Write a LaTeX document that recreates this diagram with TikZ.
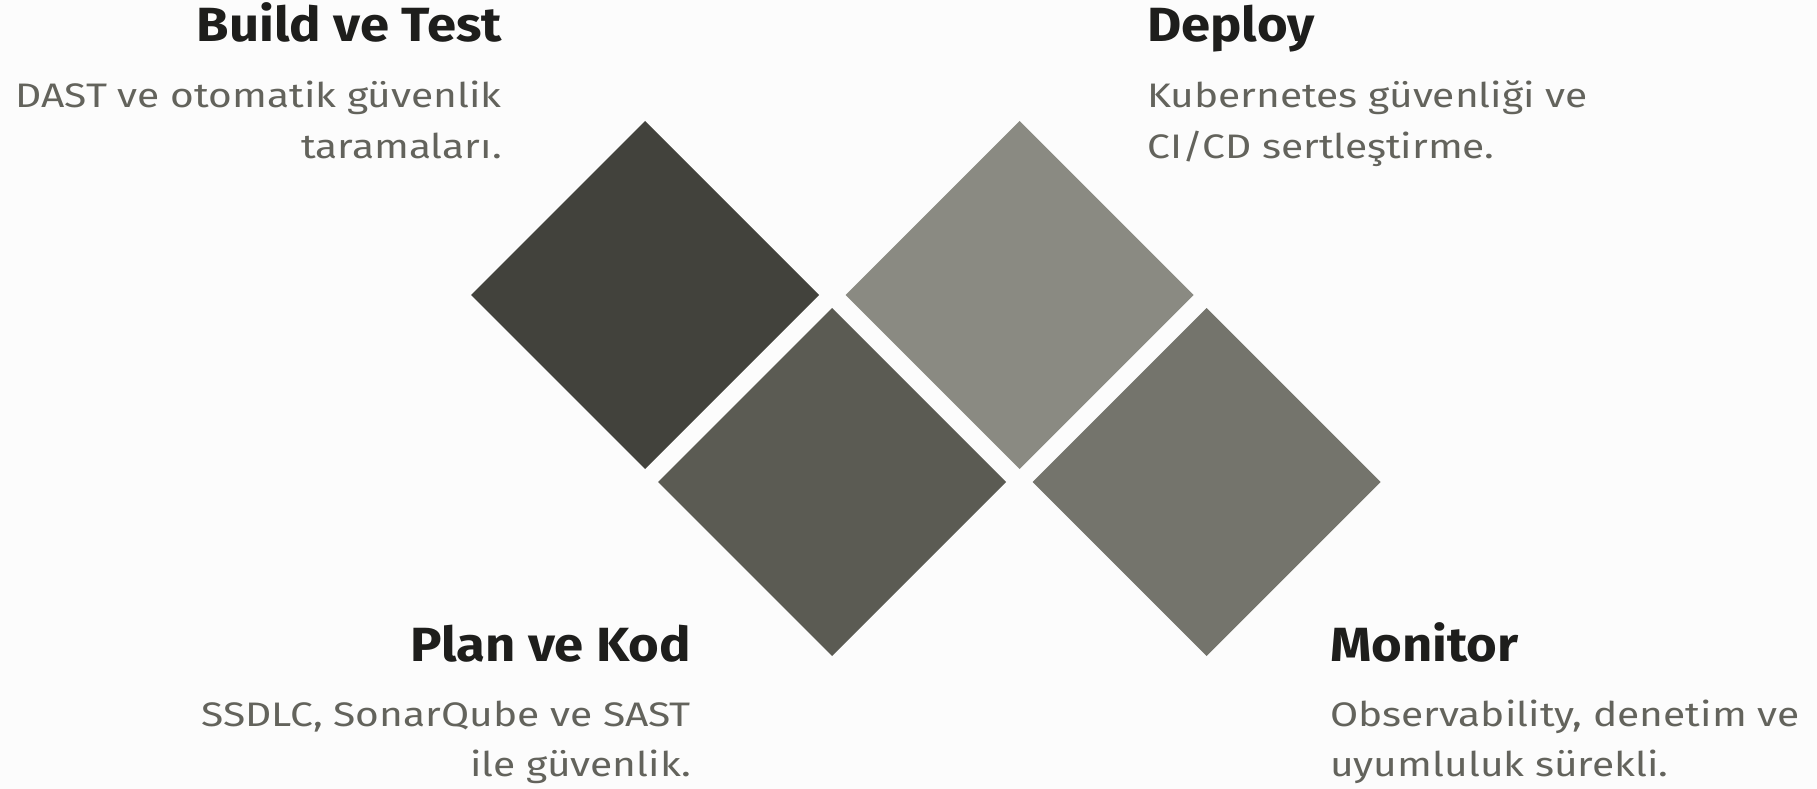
\documentclass[tikz,border=0pt]{standalone}
\usepackage{fontspec}
\setmainfont{Fira Sans}
\newfontfamily\ttlfont{Fira Sans}[FakeStretch=1.096]
\newfontfamily\dscfont{Fira Sans}[FakeStretch=1.197]
\usetikzlibrary{shapes.geometric}
\definecolor{bg}{HTML}{FCFCFC}
\definecolor{cA}{HTML}{42423C}
\definecolor{cB}{HTML}{5B5B53}
\definecolor{cC}{HTML}{8A8A82}
\definecolor{cD}{HTML}{74746C}
\definecolor{ttl}{HTML}{1E1E1C}
\definecolor{dsc}{HTML}{63635C}
\tikzset{
  tile/.style={diamond, inner sep=0pt, outer sep=0pt, minimum width=348pt, minimum height=348pt},
  ttlR/.style={anchor=base east, inner sep=0pt, text=ttl, font=\ttlfont\fontsize{48}{56}\selectfont\bfseries},
  ttlL/.style={anchor=base west, inner sep=0pt, text=ttl, font=\ttlfont\fontsize{48}{56}\selectfont\bfseries},
  dscR/.style={anchor=base east, inner sep=0pt, text=dsc, font=\dscfont\fontsize{34}{40}\selectfont},
  dscL/.style={anchor=base west, inner sep=0pt, text=dsc, font=\dscfont\fontsize{34}{40}\selectfont},
}
\begin{document}
\begin{tikzpicture}[x=1pt,y=-1pt]
\fill[bg] (0,0) rectangle (1817,789);
\useasboundingbox (0,0) rectangle (1817,789);
\node[tile, fill=cA] (d1) at (645,295) {};
\node[tile, fill=cB] (d2) at (832,482) {};
\node[tile, fill=cC] (d3) at (1019.5,295) {};
\node[tile, fill=cD] (d4) at (1206.5,482) {};
% Build ve Test
\node[ttlR] (t1) at (502,42) {Build ve Test};
\node[dscR] (a1) at (502,107.5) {DAST ve otomatik güvenlik};
\node[dscR] (b1) at (502,158) {taramaları.};
% Deploy
\node[ttlL] (t3) at (1147,42) {Deploy};
\node[dscL] (a3) at (1147,107.5) {Kubernetes güvenliği ve};
\node[dscL] (b3) at (1147,158) {CI/CD sertleştirme.};
% Plan ve Kod
\node[ttlR] (t2) at (691,661) {Plan ve Kod};
\node[dscR] (a2) at (691,726) {SSDLC, SonarQube ve SAST};
\node[dscR] (b2) at (691,776.5) {ile güvenlik.};
% Monitor
\node[ttlL] (t4) at (1330,661) {Monitor};
\node[dscL] (a4) at (1330,726) {Observability, denetim ve};
\node[dscL] (b4) at (1330,776.5) {uyumluluk sürekli.};
\end{tikzpicture}
\end{document}
